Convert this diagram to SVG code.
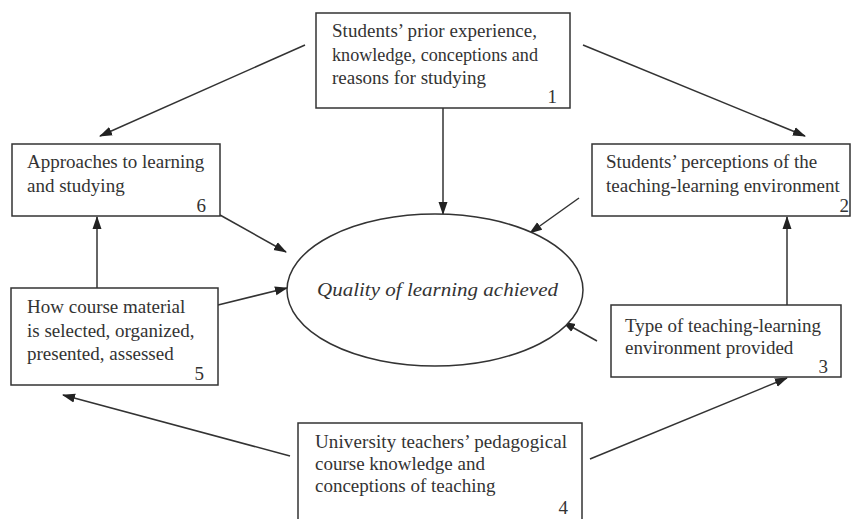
<svg xmlns="http://www.w3.org/2000/svg" width="856" height="519" viewBox="0 0 856 519">
<style>
.box{fill:#fff;stroke:#333;stroke-width:1.5}
.t{font-family:"Liberation Serif","Times New Roman",serif;font-size:19px;fill:#333}
.n{font-family:"Liberation Serif","Times New Roman",serif;font-size:19px;fill:#333;text-anchor:end}
.c{stroke:#333;stroke-width:1.5;fill:none;marker-end:url(#ah)}
</style>
<defs>
<marker id="ah" markerWidth="13" markerHeight="10" refX="12" refY="5" orient="auto" markerUnits="userSpaceOnUse">
<path d="M0,0.5 L13,5 L0,9.5 Z" fill="#222"/>
</marker>
</defs>
<rect width="856" height="519" fill="#fff"/>
<g id="connectors">
<line class="c" x1="443" y1="108" x2="443" y2="214"/>
<line class="c" x1="305" y1="45" x2="100" y2="136"/>
<line class="c" x1="583" y1="45" x2="805" y2="136"/>
<line class="c" x1="579" y1="198" x2="530" y2="233"/>
<line class="c" x1="220" y1="215" x2="286" y2="252"/>
<line class="c" x1="218" y1="305" x2="287" y2="288"/>
<line class="c" x1="97" y1="288" x2="97" y2="217"/>
<line class="c" x1="787" y1="305" x2="787" y2="217"/>
<line class="c" x1="597" y1="341" x2="563" y2="322"/>
<line class="c" x1="290" y1="456" x2="63" y2="395"/>
<line class="c" x1="590" y1="459" x2="787" y2="378"/>
</g>
<g id="n1">
<rect class="box" x="316" y="13" width="254" height="95"/>
<text class="t" x="332" y="37" textLength="205" lengthAdjust="spacing">Students’ prior experience,</text>
<text class="t" x="332" y="61" textLength="206" lengthAdjust="spacingAndGlyphs">knowledge, conceptions and</text>
<text class="t" x="332" y="84">reasons for studying</text>
<text class="n" x="557" y="103">1</text>
</g>
<g id="n6">
<rect class="box" x="12" y="144" width="208" height="72"/>
<text class="t" x="27" y="168">Approaches to learning</text>
<text class="t" x="27" y="192">and studying</text>
<text class="n" x="206" y="212">6</text>
</g>
<g id="n2">
<rect class="box" x="592" y="144" width="258" height="72"/>
<text class="t" x="606" y="168">Students’ perceptions of the</text>
<text class="t" x="606" y="192">teaching-learning environment</text>
<text class="n" x="849" y="212">2</text>
</g>
<g id="center">
<ellipse cx="435" cy="290" rx="148" ry="76" fill="#fff" stroke="#333" stroke-width="1.5"/>
<text class="t" x="317" y="296" font-style="italic" font-size="22" textLength="241" lengthAdjust="spacingAndGlyphs">Quality of learning achieved</text>
</g>
<g id="n5">
<rect class="box" x="11" y="288" width="207" height="97"/>
<text class="t" x="27" y="313">How course material</text>
<text class="t" x="27" y="337">is selected, organized,</text>
<text class="t" x="27" y="360">presented, assessed</text>
<text class="n" x="204" y="380">5</text>
</g>
<g id="n3">
<rect class="box" x="611" y="305" width="230" height="72"/>
<text class="t" x="625" y="332">Type of teaching-learning</text>
<text class="t" x="625" y="354">environment provided</text>
<text class="n" x="828" y="373">3</text>
</g>
<g id="n4">
<rect class="box" x="298" y="423" width="284" height="110"/>
<text class="t" x="315" y="448" textLength="252" lengthAdjust="spacing">University teachers’ pedagogical</text>
<text class="t" x="315" y="470">course knowledge and</text>
<text class="t" x="315" y="492">conceptions of teaching</text>
<text class="n" x="568" y="514">4</text>
</g>
</svg>
